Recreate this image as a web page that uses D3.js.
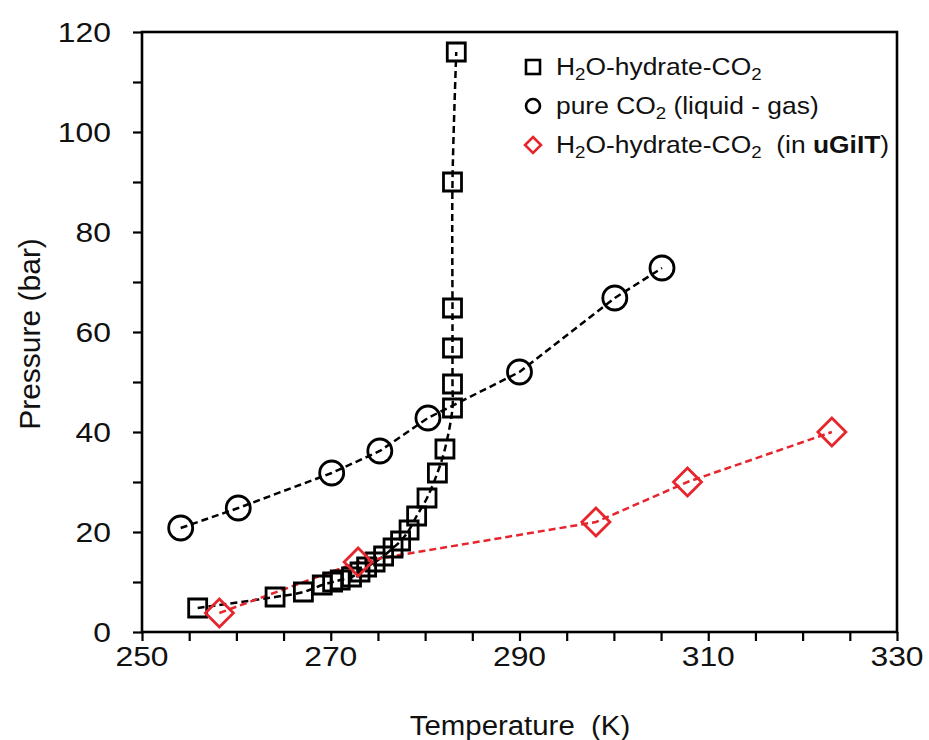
<!DOCTYPE html>
<html lang="en">

<head>
  <meta http-equiv="Content-Type" content="text/html; charset=UTF-8">
  <title>Hydrate equilibrium</title>
  <style type="text/css">
    body { margin: 0; background: #fff; }
    svg { display: block; font-family: "Liberation Sans", Arial, sans-serif; }
  </style>
</head>

<body>
  <svg width="929" height="740"></svg>
  <script src="https://cdn.jsdelivr.net/npm/d3@7"></script>
  <script>
    // 1. data
    var hydrateT = [255.9, 264.1, 267.1, 269.1, 270.2, 271.0, 272.2, 273.1, 273.8, 274.7, 275.6, 276.6, 277.4, 278.3, 279.1, 280.2, 281.3, 282.1, 282.9, 282.9, 282.9, 282.9, 282.9, 283.3];
    var hydrateP = [4.8, 7.0, 8.0, 9.4, 10.0, 10.4, 11.0, 12.0, 13.0, 14.0, 15.2, 16.8, 18.2, 20.4, 23.2, 26.8, 31.8, 36.6, 44.8, 49.6, 56.8, 64.8, 90.0, 116.0];
    var co2T = [254.1, 260.2, 270.1, 275.2, 280.3, 290.0, 300.1, 305.1];
    var co2P = [20.8, 24.8, 31.8, 36.2, 42.8, 52.0, 66.8, 72.8];
    var ugiltT = [258.2, 272.9, 298.1, 307.8, 323.1];
    var ugiltP = [3.8, 14.0, 22.0, 30.0, 40.0];

    var xTickLabels = [250, 270, 290, 310, 330];
    var yTickLabels = [0, 20, 40, 60, 80, 100, 120];
    var legendLabels = ["hydrate", "co2", "ugilt"];

    var red = "#e6252d";
    var SX = 1.18;   // picture text is a bit wide

    var svg = d3.select("svg");
    var x = d3.scaleLinear().domain([250, 330]).range([142, 897]);
    var y = d3.scaleLinear().domain([0, 120]).range([632, 32]);

    function pts(ts, ps) {
      return ts.map(function (t, i) { return [t, ps[i]]; });
    }

    // 2. axes
    var xAxis = d3.axisBottom(x).tickValues(d3.range(250, 331, 5)).tickSize(9).tickFormat("");
    var yAxis = d3.axisLeft(y).tickValues(d3.range(0, 121, 10)).tickSize(9).tickFormat("");

    svg.append("g").attr("transform", "translate(0,632)").call(xAxis);
    svg.append("g").attr("transform", "translate(142,0)").call(yAxis);
    svg.selectAll(".domain").remove();
    svg.selectAll(".tick line").attr("stroke", "#000").attr("stroke-width", 2.2);

    // frame
    svg.append("rect")
      .attr("x", x(250)).attr("y", y(120))
      .attr("width", x(330) - x(250)).attr("height", y(0) - y(120))
      .attr("fill", "none").attr("stroke", "#000").attr("stroke-width", 2.6);

    svg.selectAll(".xlab")
      .data(xTickLabels)
      .enter()
      .append("text")
      .attr("class", "xlab")
      .attr("transform", function (d) { return "translate(" + x(d) + ",666) scale(" + SX + ",1)"; })
      .attr("text-anchor", "middle")
      .attr("font-size", 27)
      .attr("fill", "#111")
      .text(function (d) { return d; });

    svg.selectAll(".ylab")
      .data(yTickLabels)
      .enter()
      .append("text")
      .attr("class", "ylab")
      .attr("transform", function (d) { return "translate(111," + (y(d) + 10) + ") scale(" + SX + ",1)"; })
      .attr("text-anchor", "end")
      .attr("font-size", 27)
      .attr("fill", "#111")
      .text(function (d) { return d; });

    svg.append("text")
      .attr("transform", "translate(520,735) scale(1.05,1)")
      .attr("text-anchor", "middle")
      .attr("font-size", 28)
      .attr("fill", "#111")
      .attr("xml:space", "preserve")
      .text("Temperature  (K)");

    svg.append("text")
      .attr("transform", "translate(40,334) rotate(-90)")
      .attr("text-anchor", "middle")
      .attr("font-size", 30)
      .attr("fill", "#111")
      .text("Pressure (bar)");

    // 3. lines
    var line = d3.line()
      .x(function (d) { return x(d[0]); })
      .y(function (d) { return y(d[1]); });

    svg.append("path")
      .attr("d", line.curve(d3.curveCatmullRom.alpha(0.5))(pts(hydrateT, hydrateP)))
      .attr("fill", "none").attr("stroke", "#000").attr("stroke-width", 2.5)
      .attr("stroke-dasharray", "7,4");

    svg.append("path")
      .attr("d", line.curve(d3.curveLinear)(pts(co2T, co2P)))
      .attr("fill", "none").attr("stroke", "#000").attr("stroke-width", 2.5)
      .attr("stroke-dasharray", "7,4");

    svg.append("path")
      .attr("d", line.curve(d3.curveLinear)(pts(ugiltT, ugiltP)))
      .attr("fill", "none").attr("stroke", red).attr("stroke-width", 2.5)
      .attr("stroke-dasharray", "7,4");

    // 4. markers
    var square = d3.symbol().type(d3.symbolSquare).size(324);
    var diamond = "M0,-14L14,0L0,14L-14,0Z";

    svg.selectAll(".sq")
      .data(pts(hydrateT, hydrateP))
      .enter()
      .append("path")
      .attr("class", "sq")
      .attr("d", square)
      .attr("transform", function (d) { return "translate(" + x(d[0]) + "," + y(d[1]) + ")"; })
      .attr("fill", "none").attr("stroke", "#000").attr("stroke-width", 2.8);

    svg.selectAll(".ci")
      .data(pts(co2T, co2P))
      .enter()
      .append("circle")
      .attr("class", "ci")
      .attr("cx", function (d) { return x(d[0]); })
      .attr("cy", function (d) { return y(d[1]); })
      .attr("r", 12)
      .attr("fill", "none").attr("stroke", "#000").attr("stroke-width", 2.8);

    svg.selectAll(".di")
      .data(pts(ugiltT, ugiltP))
      .enter()
      .append("path")
      .attr("class", "di")
      .attr("d", diamond)
      .attr("transform", function (d) { return "translate(" + x(d[0]) + "," + y(d[1]) + ")"; })
      .attr("fill", "none").attr("stroke", red).attr("stroke-width", 2.8);

    // 5. legend
    var legendY = [67, 106, 145];
    var lg = svg.selectAll(".lg")
      .data(legendLabels)
      .enter()
      .append("g")
      .attr("class", "lg")
      .attr("transform", function (d, i) { return "translate(533," + legendY[i] + ")"; });

    lg.filter(function (d) { return d === "hydrate"; })
      .append("rect")
      .attr("x", -7).attr("y", -7).attr("width", 14).attr("height", 14)
      .attr("fill", "none").attr("stroke", "#000").attr("stroke-width", 2.6);
    lg.filter(function (d) { return d === "co2"; })
      .append("circle")
      .attr("r", 7)
      .attr("fill", "none").attr("stroke", "#000").attr("stroke-width", 2.6);
    lg.filter(function (d) { return d === "ugilt"; })
      .append("path")
      .attr("d", "M0,-8L8,0L0,8L-8,0Z")
      .attr("fill", "none").attr("stroke", red).attr("stroke-width", 2.6);

    var lt = lg.append("text")
      .attr("transform", "translate(23,8) scale(1.1,1)")
      .attr("font-size", 24)
      .attr("fill", "#111")
      .attr("xml:space", "preserve");

    // subscript 2, the following tspan shifts back up
    function sub(t) {
      t.append("tspan").attr("font-size", 17).attr("dy", 5).text("2");
    }

    lt.each(function (d) {
      var t = d3.select(this);
      if (d === "co2") {
        t.append("tspan").text("pure CO");
        sub(t);
        t.append("tspan").attr("dy", -5).text(" (liquid - gas)");
      } else {
        t.append("tspan").text("H");
        sub(t);
        t.append("tspan").attr("dy", -5).text("O-hydrate-CO");
        sub(t);
        if (d === "ugilt") {
          t.append("tspan").attr("dy", -5).text("  (in ");
          t.append("tspan").attr("font-weight", "bold").text("uGiIT");
          t.append("tspan").text(")");
        }
      }
    });
  </script>
</body>

</html>
